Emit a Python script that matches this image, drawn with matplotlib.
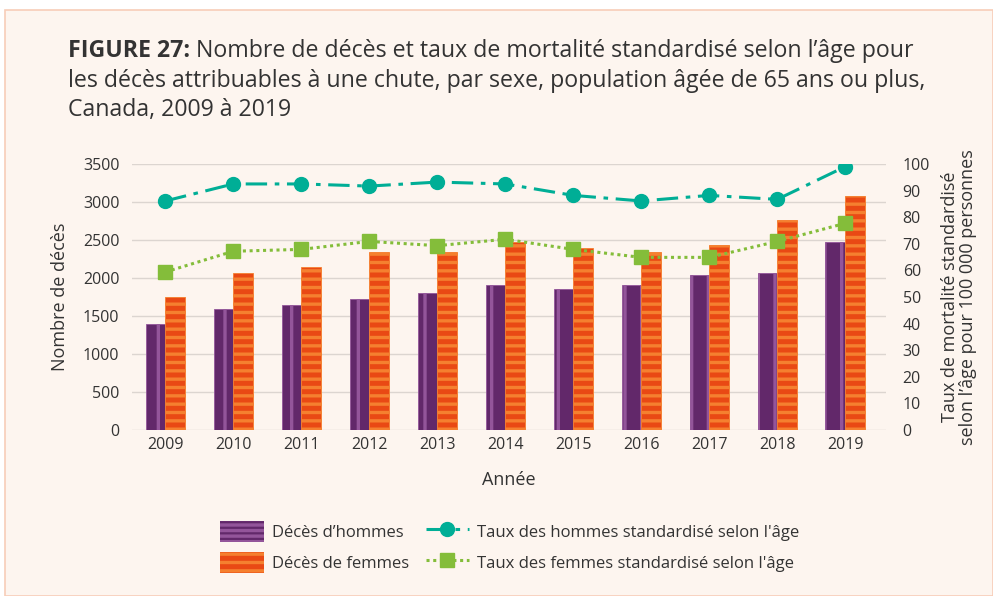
import matplotlib
matplotlib.use("Agg")
import matplotlib.pyplot as plt
import numpy as np
from matplotlib.patches import Patch, Rectangle
from matplotlib.lines import Line2D

plt.rcParams['font.family'] = ['Open Sans', 'DejaVu Sans']
plt.rcParams['hatch.linewidth'] = 2.4

years = ['2009', '2010', '2011', '2012', '2013', '2014', '2015', '2016', '2017', '2018', '2019']
men_deaths = [1400, 1590, 1640, 1720, 1800, 1910, 1860, 1910, 2040, 2070, 2470]
women_deaths = [1750, 2070, 2150, 2340, 2340, 2470, 2390, 2340, 2440, 2760, 3080]
men_rate = [86.1, 92.5, 92.5, 91.7, 93.2, 92.5, 88.2, 86.1, 88.2, 86.7, 99.0]
women_rate = [59.4, 67.2, 67.9, 70.9, 69.3, 71.7, 67.9, 64.9, 64.9, 70.9, 77.7]

bg = '#fdf5ef'
text_c = '#333333'
men_dark = '#62286a'
men_light = '#93559a'
wom_dark = '#e94914'
wom_light = '#f5802f'
teal = '#00ae96'
green = '#84bd3a'

fig = plt.figure(figsize=(9.93, 5.96), dpi=100)
fig.patch.set_facecolor('white')
panel = Rectangle((5/993, 0), 1 - 5/993, 1 - 10/596, transform=fig.transFigure,
                  facecolor=bg, edgecolor='#f7cdb8', linewidth=1.2, zorder=-10)
fig.patches.append(panel)

ax = fig.add_axes([132/993, 1 - 430/596, (886-132)/993, (430-164)/596])
ax.set_facecolor('none')
x = np.arange(len(years))
w = 0.29
ax.bar(x - w/2, men_deaths, width=w, color=men_dark, edgecolor=men_light, linewidth=0.6,
       hatch='|', zorder=2)
ax.bar(x + w/2, women_deaths, width=w, color=wom_dark, edgecolor=wom_light, linewidth=0.6,
       hatch='--', zorder=2)
ax.set_ylim(0, 3500)
ax.set_xlim(-0.49, 10.6)
ax.set_yticks(np.arange(0, 3501, 500))
ax.set_xticks(x)
ax.set_xticklabels(years)
ax.grid(axis='y', color='#dcd5d0', linewidth=1.0, zorder=0)
ax.set_axisbelow(True)
for s in ax.spines.values():
    s.set_visible(False)
ax.tick_params(axis='both', length=0, labelsize=11.5, colors=text_c, pad=5)
ax.tick_params(axis='y', pad=9)
ax.set_ylabel('Nombre de décès', fontsize=13, color=text_c, labelpad=10)
ax.set_xlabel('Année', fontsize=13, color=text_c, labelpad=13)

ax2 = ax.twinx()
ax2.set_ylim(0, 100)
ax2.set_yticks(np.arange(0, 101, 10))
for s in ax2.spines.values():
    s.set_visible(False)
ax2.tick_params(axis='y', length=0, labelsize=11.5, colors=text_c, pad=12)
ax2.plot(x, men_rate, color=teal, linewidth=2.2, linestyle=(0, (7, 2.5, 1.5, 2.5)),
         marker='o', markersize=10, zorder=3)
ax2.plot(x, women_rate, color=green, linewidth=2.2, linestyle=(0, (1, 1.2)),
         marker='s', markersize=9.5, zorder=3)
ax2.set_ylabel('Taux de mortalité standardisé\nselon l’âge pour 100 000 personnes',
               fontsize=13, color=text_c, labelpad=8, linespacing=1.0)

# title
tsize = 16.7
t1 = fig.text(68/993, 1 - 57/596, 'FIGURE 27:', fontsize=tsize, fontweight='bold',
              color=text_c, va='baseline', ha='left')
fig.canvas.draw()
ann = plt.annotate(' Nombre de décès et taux de mortalité standardisé selon l’âge pour',
                   xy=(1, 0), xycoords=t1, va='bottom', ha='left', fontsize=tsize,
                   color=text_c, annotation_clip=False)
fig.text(68/993, 1 - 87/596, 'les décès attribuables à une chute, par sexe, population âgée de 65 ans ou plus,',
         fontsize=tsize, color=text_c, va='baseline', ha='left')
fig.text(68/993, 1 - 116/596, 'Canada, 2009 à 2019', fontsize=tsize, color=text_c,
         va='baseline', ha='left')

handles = [
    Patch(facecolor=men_dark, edgecolor=men_light, hatch='---', linewidth=0),
    Patch(facecolor=wom_dark, edgecolor=wom_light, hatch='--', linewidth=0),
    Line2D([], [], color=teal, linewidth=2.2, linestyle=(0, (7, 2.5, 1.5, 2.5)), marker='o', markersize=10),
    Line2D([], [], color=green, linewidth=2.2, linestyle=(0, (1, 1.2)), marker='s', markersize=9.5),
]
labels = ['Décès d’hommes', 'Décès de femmes',
          'Taux des hommes standardisé selon l\'âge', 'Taux des femmes standardisé selon l\'âge']
leg = fig.legend(handles, labels, ncol=2, loc='center', bbox_to_anchor=(510/993, 1 - 547/596),
                 frameon=False, fontsize=12, handlelength=2.6, handleheight=1.5,
                 columnspacing=1.0, labelspacing=0.65, handletextpad=0.5, labelcolor=text_c)

fig.savefig('out.png', dpi=100, facecolor=fig.get_facecolor())
